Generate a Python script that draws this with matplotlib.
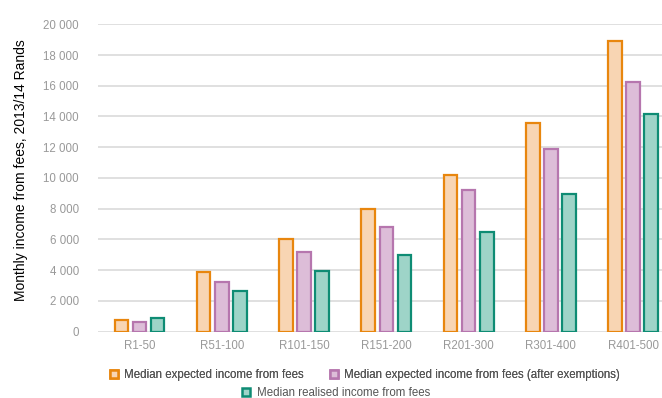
import matplotlib
matplotlib.use("Agg")
import matplotlib.pyplot as plt
from matplotlib.lines import Line2D
from matplotlib.ticker import FuncFormatter
import numpy as np

plt.rcParams["font.family"] = ["Liberation Sans", "DejaVu Sans"]

# monthly fee brackets and median incomes (2013/14 Rands)
brackets = ["R1-50", "R51-100", "R101-150", "R151-200", "R201-300", "R301-400", "R401-500"]
expected = [750, 3900, 6000, 7950, 10200, 13600, 18900]
after_exemptions = [650, 3250, 5200, 6800, 9200, 11900, 16250]
realised = [850, 2650, 3950, 4950, 6450, 8950, 14150]

series = [
    ("Median expected income from fees", expected, "#e8860e", "#f8d5b3"),
    ("Median expected income from fees (after exemptions)", after_exemptions, "#b676ae", "#ddbdd8"),
    ("Median realised income from fees", realised, "#0e8c74", "#9ed4c8"),
]

fig = plt.figure(figsize=(6.62, 3.98), dpi=100)
ax = fig.add_axes([0.1486, 0.167, 0.870, 0.772])

x = np.arange(len(brackets))
width = 0.165
step = 0.22
for i, (name, vals, edge, fill) in enumerate(series):
    ax.bar(x + (i - 1) * step, vals, width, color=fill, edgecolor=edge,
           linewidth=1.6, zorder=3)

ax.set_xlim(-0.5, len(brackets) - 0.5)
ax.set_ylim(0, 20000)
ax.set_yticks(range(0, 20001, 2000))
ax.yaxis.set_major_formatter(FuncFormatter(lambda v, p: f"{int(v):,}".replace(",", " ")))
ax.set_xticks(x)
ax.set_xticklabels(brackets)

ax.grid(axis="y", color="#e0e0e0", linewidth=1.4, zorder=0)
ax.tick_params(axis="both", length=0, labelsize=8.3, labelcolor="#999999")
ax.tick_params(axis="y", pad=14)
ax.tick_params(axis="x", pad=6)
for s in ax.spines.values():
    s.set_visible(False)

ax.set_ylabel("Monthly income from fees, 2013/14 Rands", fontsize=10, color="black")
ax.yaxis.set_label_coords(-0.123, 0.526)

def handle(edge, fill):
    return Line2D([], [], linestyle="none", marker="s", markersize=5.5,
                  markerfacecolor=fill, markeredgecolor=edge, markeredgewidth=1.8)

handles = [handle(e, f) for _, _, e, f in series]
labels = [n for n, _, _, _ in series]

leg_kw = dict(frameon=False, fontsize=8.3, labelcolor="#555555", handlelength=0.8,
              handletextpad=0.5, columnspacing=2.2, borderpad=0, borderaxespad=0)
top = fig.legend(handles[:2], labels[:2], ncol=2, loc="center",
                 bbox_to_anchor=(0.551, 0.058), **leg_kw)
fig.legend(handles[2:], labels[2:], loc="center",
           bbox_to_anchor=(0.507, 0.012), **leg_kw)
fig.add_artist(top)

fig.savefig("out.png", dpi=100)
